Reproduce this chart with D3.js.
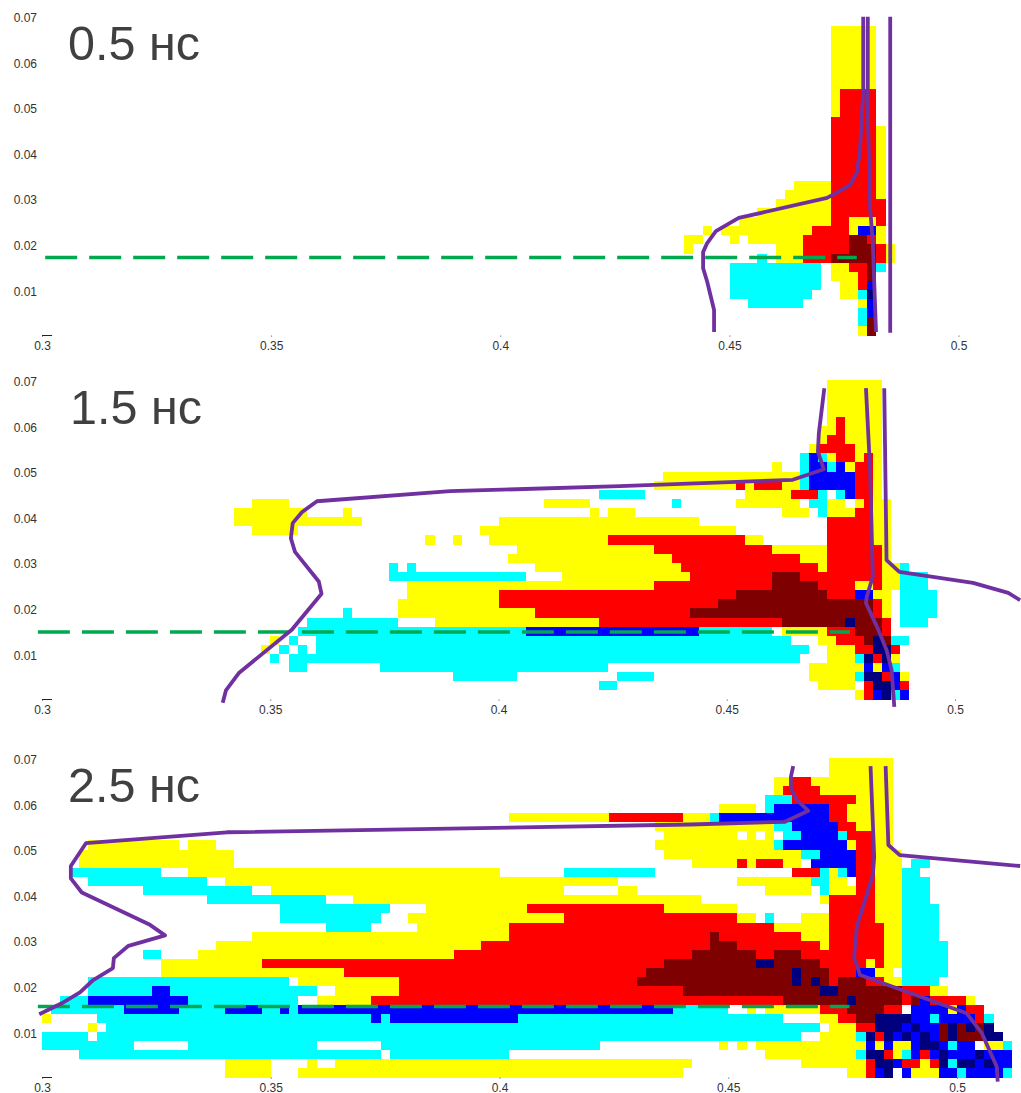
<!DOCTYPE html>
<html>
<head>
<meta charset="utf-8">
<script src="https://cdn.jsdelivr.net/npm/d3@7"></script>
<style>
  html, body { margin: 0; padding: 0; background: #fff; }
  svg { display: block; }
  text { font-family: "Liberation Sans", Arial, sans-serif; }
</style>
</head>
<body>
<div id="chart"></div>
<script>
// cell grid: one string per row, bottom row first
// each token is "<first column><level>", a level runs until the next token, "." = empty
const rows05 = [
  "89y 90d 91.",
  "89c 90d 91.",
  "89c 90b 91.",
  "77c 83. 89y 90b 91.",
  "75c 84. 87y 89c 90n 91.",
  "75c 85. 87y 89r 90b 91.",
  "75c 85. 86y 89r 90d 91.",
  "75c 85. 86y 88r 90d 91c 92.",
  "78c 79. 80y 83r 86d 91r 92y 93.",
  "70y 71. 80y 83r 88d 91r 92y 93.",
  "70y 72. 75y 76. 77y 83r 88d 90r 91y 92.",
  "72y 73. 74y 84r 88y 89b 91y 92.",
  "76y 86r 88y 91r 92.",
  "78y 86r 92.",
  "80y 86r 92.",
  "81y 86r 91y 92.",
  "82y 86r 91y 92.",
  "86r 91y 92.",
  "86r 91y 92.",
  "86r 91y 92.",
  "86r 91y 92.",
  "86r 91y 92.",
  "86r 91y 92.",
  "86r 91.",
  "86y 87r 91.",
  "86y 87r 91.",
  "86y 87r 91.",
  "86y 91.",
  "86y 91.",
  "86y 91.",
  "86y 91.",
  "86y 91.",
  "86y 91.",
  "86y 91."
];

const rows15 = [
  "89y 90r 91b 92n 93c 94b 95.",
  "61c 63. 85y 89. 90r 91n 93b 94r 95.",
  "45c 52. 63c 67. 84y 89c 90n 92r 93b 94y 95.",
  "27c 29. 37c 62. 84y 90b 91y 92b 93c 94.",
  "25c 26. 27c 83. 86y 89c 90n 91r 92n 93y 94.",
  "24y 25. 26c 27. 28c 29. 30c 84. 86y 89r 91n 93r 94.",
  "25y 26. 27c 28. 30c 82. 85y 87r 90d 91n 92d 93c 95.",
  "28c 53b 72c 80. 81y 86r 89d 92r 93.",
  "29c 39. 43y 61r 81d 88n 89d 92r 93. 94c 97.",
  "33c 34. 39y 54r 71d 91r 92y 93. 94c 98.",
  "39y 50r 74d 91r 92y 93. 94c 98.",
  "40y 50r 76d 86r 89b 91y 93. 94c 98.",
  "40y 67r 80d 85r 89y 91r 92y 94c 97.",
  "38c 53. 57y 71r 80d 83r 92y 94c 97.",
  "38c 39. 40c 41. 54y 70r 85y 86r 92y 94c 95.",
  "51y 69r 83y 86r 92y 93.",
  "52y 67r 80y 86r 92y 93.",
  "42y 43. 45y 46. 49y 62r 77y 79. 86r 91y 93.",
  "23y 28. 48y 76. 86r 91y 93.",
  "21y 35. 50y 72. 86r 91y 93.",
  "21y 29. 33y 34. 60y 61. 62y 65. 81y 84. 85c 86y 89r 91y 93.",
  "23y 27. 55y 60. 69c 70. 76y 83. 84c 86y 88. 89y 90r 91y 93.",
  "61c 66. 77y 82r 85c 86. 87c 88b 89r 91y 92.",
  "67y 76r 77y 78r 81y 83c 84b 89r 91y 92.",
  "68y 83c 84b 89r 91y 92.",
  "80y 81. 83c 84b 86c 87b 88y 89r 91y 92.",
  "83c 84b 85c 86y 87r 89y 90r 91y 92.",
  "84y 85r 89y 92.",
  "85y 86r 88y 92.",
  "85y 87r 88y 92.",
  "86y 87r 88y 92.",
  "86y 92.",
  "86y 92.",
  "86y 92.",
  "86y 92."
];

const rows25 = [
  "20y 25. 28y 70. 88y 90r 91b 92n 93. 94b 95y 98b 100c 101b 105c 106.",
  "20y 25. 29y 30. 32y 71. 83y 90r 91n 93b 94r 96y 97r 98n 99c 100n 102b 103n 104b 106.",
  "4c 37. 38c 51. 79y 89c 90n 92r 93y 94c 95b 96r 97b 98n 99b 102n 103b 106.",
  "0c 10. 16c 30. 37c 61. 74y 75. 76y 77. 78y 90b 91y 92b 93y 95b 96n 98b 99c 100b 102. 103y 105c 106.",
  "0c 5. 6c 83. 85y 89c 90n 91r 92n 93b 94n 95b 96n 97b 98d 99n 100d 103n 105.",
  "5y 6. 7c 85. 86y 89r 91n 94b 95n 96b 98d 99n 100d 101n 102d 103n 104.",
  "0y 1. 6c 36b 37c 38b 52c 81. 85y 87r 89d 91n 95b 97c 98b 102r 103c 104.",
  "1c 9b 15c 20b 24c 26b 27c 28b 69c 75. 77y 78. 79y 85r 88d 92r 94. 95b 99y 100b 101r 103.",
  "2c 5b 16c 28. 30y 36r 81d 88n 89d 94r 95d 96b 97r 101y 102.",
  "5c 12b 14c 30. 32y 39r 70d 85n 87d 94r 97y 99.",
  "5c 27. 28y 39r 65d 82n 83d 84n 85d 86r 87d 90r 92y 94c 98.",
  "13y 33r 66d 82n 83d 86r 89b 91y 93. 94c 99.",
  "13y 24r 68d 78n 80d 85r 90y 91r 92y 94c 99.",
  "11c 13. 17y 45r 71d 78r 80d 83r 92y 94c 99.",
  "19y 48r 73d 76r 85y 86r 92y 94c 99.",
  "23y 51r 73d 74r 83y 86r 92y 94c 98.",
  "31c 36. 41y 51r 80y 86r 92y 94c 98.",
  "26c 37. 40y 57r 76y 78. 79c 80. 83y 86r 91y 94c 98.",
  "26c 38. 42y 53r 68y 76. 86r 91y 94c 98.",
  "18c 31. 34y 72. 85y 86r 91y 94c 97.",
  "11c 23. 25y 57. 63y 65. 79y 84. 85c 86y 89r 91y 94c 97.",
  "5c 18. 20y 63. 76y 84c 86y 88. 89r 91y 94c 97.",
  "3c 13. 16y 50. 57c 67. 82r 85c 86y 87c 88b 89r 91y 94c 96.",
  "4y 21. 71y 76r 77y 78r 81y 83. 84b 89r 91y 94. 95c 97.",
  "4y 21. 68y 83c 85b 89r 91y 94.",
  "5y 15. 16y 19. 67y 80c 81b 88y 89r 91y 93.",
  "68y 76. 77y 78. 79y 80. 81c 83b 87c 88r 91y 93.",
  "67y 80c 82b 87r 89y 93.",
  "51y 62r 70y 73c 74b 86r 88y 93.",
  "74y 78. 79c 80b 86r 88y 93.",
  "79c 82r 89y 93.",
  "80y 81r 85y 93.",
  "80y 82r 84y 93.",
  "86y 93.",
  "86y 93."
];

// purple outlines as [x, y] in axis units
const outlines05 = [
  [[0.4469, 0.0008], [0.4469, 0.0056], [0.4454, 0.0118], [0.4445, 0.0148], [0.4445, 0.0183], [0.4454, 0.0203], [0.4473, 0.0229], [0.4523, 0.0258], [0.4716, 0.0302], [0.4766, 0.0330], [0.4781, 0.0357], [0.4788, 0.0407], [0.4795, 0.0539], [0.4795, 0.0699]],
  [[0.4805, 0.0699], [0.4805, 0.0495], [0.4810, 0.0282], [0.4816, 0.0203], [0.4823, 0.0008]],
  [[0.4854, 0.0699], [0.4854, 0.0006]]
];
const outlines15 = [
  [[0.3395, -0.0007], [0.3402, 0.0020], [0.3431, 0.0059], [0.3546, 0.0153], [0.3611, 0.0232], [0.3605, 0.0259], [0.3553, 0.0324], [0.3544, 0.0354], [0.3548, 0.0387], [0.3568, 0.0411], [0.3601, 0.0435], [0.3892, 0.0457], [0.4263, 0.0468], [0.4641, 0.0482], [0.4709, 0.0505], [0.4696, 0.0544], [0.4698, 0.0584], [0.4710, 0.0683]],
  [[0.4801, 0.0683], [0.4810, 0.0504], [0.4816, 0.0270], [0.4803, 0.0226], [0.4801, 0.0212], [0.4825, 0.0160], [0.4846, 0.0109], [0.4857, 0.0065], [0.4863, -0.0016]],
  [[0.4841, 0.0683], [0.4846, 0.0306], [0.4874, 0.0280], [0.5035, 0.0256], [0.5112, 0.0234], [0.5138, 0.0218]]
];
const outlines25 = [
  [[0.2994, 0.0139], [0.3043, 0.0163], [0.3083, 0.0187], [0.3112, 0.0214], [0.3155, 0.0240], [0.3157, 0.0262], [0.3189, 0.0289], [0.3269, 0.0312], [0.3236, 0.0335], [0.3087, 0.0406], [0.3063, 0.0437], [0.3063, 0.0464], [0.3096, 0.0514], [0.3404, 0.0538], [0.4416, 0.0555], [0.4624, 0.0561], [0.4675, 0.0585], [0.4650, 0.0609], [0.4637, 0.0634], [0.4637, 0.0660], [0.4642, 0.0683]],
  [[0.4811, 0.0683], [0.4819, 0.0484], [0.4816, 0.0444], [0.4781, 0.0331], [0.4775, 0.0265], [0.4788, 0.0225], [0.5021, 0.0141], [0.5054, 0.0098], [0.5087, 0.0024], [0.5089, -0.0009]],
  [[0.4844, 0.0683], [0.4850, 0.0510], [0.4875, 0.0488], [0.5138, 0.0464]]
];

// green dashed level: [x start, x end, y]
const level05 = [0.3007, 0.4781, 0.0171];
const level15 = [0.2991, 0.4766, 0.0148];
const level25 = [0.2991, 0.4765, 0.0156];

const panelLabels = ["0.5 нс", "1.5 нс", "2.5 нс"];
const xTicks = [0.3, 0.35, 0.4, 0.45, 0.5];
const yTicks = [0.01, 0.02, 0.03, 0.04, 0.05, 0.06, 0.07];

const levelColors = {
  y: "#ffff00",
  c: "#00ffff",
  r: "#ff0000",
  d: "#7f0000",
  b: "#0000ff",
  n: "#00007f"
};

const cellSize = 0.002;
const width = 1021;
const height = 1093;

const svg = d3.select("#chart").append("svg")
  .attr("width", width)
  .attr("height", height);

// the overlay lines sit on one shared scale, the pasted panels differ by a pixel or two
const x = d3.scaleLinear().domain([0.3, 0.5]).range([42, 957]);

// expand the row strings to single cells
function toCells(rows) {
  const cells = [];
  rows.forEach((row, r) => {
    const tokens = row.split(" ").map(t => ({ col: parseInt(t), level: t.slice(-1) }));
    tokens.forEach((t, i) => {
      if (t.level === ".") return;
      const end = tokens[i + 1].col;
      cells.push({ x0: 0.3 + t.col * cellSize, x1: 0.3 + end * cellSize, r, level: t.level });
    });
  });
  return cells;
}

function drawPanel(rows, outlines, level, label, opts) {
  const y = d3.scaleLinear().domain([0, 0.07]).range([opts.bottom, opts.bottom - 319.2]);
  const xCells = d3.scaleLinear().domain([0.3, 0.5]).range(opts.cellRange);
  const xAxisScale = d3.scaleLinear().domain([0.3, 0.5]).range(opts.axisRange);
  const g = svg.append("g");

  g.selectAll("rect")
    .data(toCells(rows))
    .join("rect")
    .attr("x", d => xCells(d.x0))
    .attr("width", d => xCells(d.x1) - xCells(d.x0))
    .attr("y", d => y((d.r + 1) * cellSize))
    .attr("height", d => y(d.r * cellSize) - y((d.r + 1) * cellSize))
    .attr("fill", d => levelColors[d.level])
    .attr("shape-rendering", "crispEdges");

  // axes, the original has no axis lines, only labels and dot ticks
  const yAxis = g.append("g")
    .attr("transform", `translate(${x(0.3)},0)`)
    .call(d3.axisLeft(y).tickValues(yTicks).tickFormat(d3.format(".2f")).tickSize(0).tickPadding(5));
  yAxis.select(".domain").remove();

  const xAxis = g.append("g")
    .attr("transform", `translate(0,${opts.bottom})`)
    .call(d3.axisBottom(xAxisScale).tickValues(xTicks).tickFormat(d => String(d)).tickSize(1).tickPadding(5));
  xAxis.select(".domain").remove();

  g.selectAll(".tick text")
    .style("font-family", '"Liberation Sans", Arial, sans-serif')
    .style("font-size", "12px")
    .attr("fill", "#333");
  yAxis.selectAll(".tick text").attr("dy", "0.42em");
  xAxis.selectAll(".tick line").attr("stroke", "#444");

  // short mark at the origin
  g.append("line")
    .attr("x1", x(0.3))
    .attr("x2", x(0.3022))
    .attr("y1", Math.round(y(0)) - 0.5)
    .attr("y2", Math.round(y(0)) - 0.5)
    .attr("stroke", "#222");

  g.append("line")
    .attr("x1", x(level[0]))
    .attr("x2", x(level[1]))
    .attr("y1", y(level[2]))
    .attr("y2", y(level[2]))
    .attr("stroke", "#00a84f")
    .attr("stroke-width", 3.5)
    .attr("stroke-dasharray", "32,12");

  const line = d3.line().x(d => x(d[0])).y(d => y(d[1]));
  outlines.forEach(o => {
    g.append("path")
      .attr("d", line(o))
      .attr("fill", "none")
      .attr("stroke", "#7030a0")
      .attr("stroke-width", 3.8)
      .attr("stroke-linejoin", "round");
  });

  g.append("text")
    .attr("x", opts.labelX)
    .attr("y", opts.labelY)
    .attr("font-size", 48.5)
    .attr("fill", "#404040")
    .text(label);
}

drawPanel(rows05, outlines05, level05, panelLabels[0], {
  bottom: 335.6, cellRange: [43.7, 958.7], axisRange: [42, 958.5], labelX: 68, labelY: 60
});
drawPanel(rows15, outlines15, level15, panelLabels[1], {
  bottom: 699.6, cellRange: [42, 955], axisRange: [42, 955], labelX: 70, labelY: 424
});
drawPanel(rows25, outlines25, level25, panelLabels[2], {
  bottom: 1077.6, cellRange: [42, 957], axisRange: [42, 957], labelX: 68, labelY: 802
});
</script>
</body>
</html>
